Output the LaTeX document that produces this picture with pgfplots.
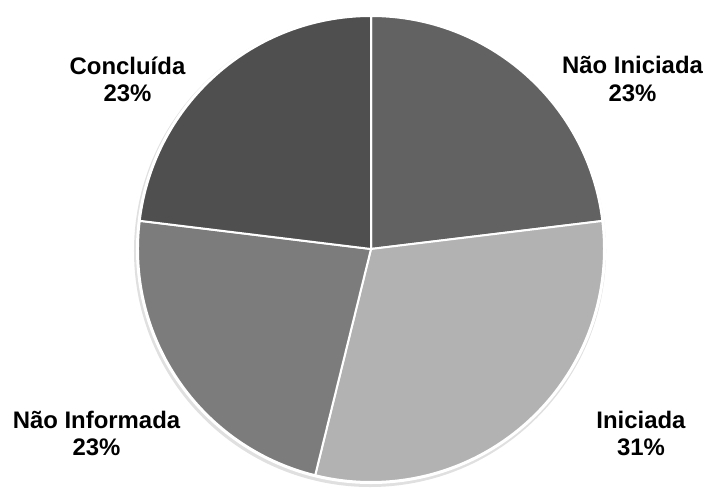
\documentclass[border=0pt]{standalone}
\usepackage{pgfplots}
\pgfplotsset{compat=1.18}
\usepackage{pgfplotstable}
\usepackage{fontspec}
\setmainfont{Liberation Sans}

\definecolor{cA}{HTML}{626262}
\definecolor{cB}{HTML}{B2B2B2}
\definecolor{cC}{HTML}{7C7C7C}
\definecolor{cD}{HTML}{4F4F4F}

% Status (clockwise from top): Nao Iniciada, Iniciada, Nao Informada, Concluida
\pgfplotstableread{
value
23.08
30.77
23.08
23.08
}\piedata

\newcommand\slice[3]{%
  \fill[#3, draw=white, line width=1bp, line join=round]
    (axis cs:371,235) -- (axis cs:{371+233*cos(#1)},{235+233*sin(#1)})
    arc[start angle=#1, end angle=#2, radius=116.5bp] -- cycle;}
\newcommand\pct[1]{\pgfmathprintnumber[fixed,precision=0,assume math mode=true]{#1}\%}

\begin{document}
\begin{tikzpicture}
\pgfplotstablegetelem{0}{value}\of\piedata \let\va\pgfplotsretval
\pgfplotstablegetelem{1}{value}\of\piedata \let\vb\pgfplotsretval
\pgfplotstablegetelem{2}{value}\of\piedata \let\vc\pgfplotsretval
\pgfplotstablegetelem{3}{value}\of\piedata \let\vd\pgfplotsretval
\pgfmathsetmacro\aA{90}
\pgfmathsetmacro\aB{\aA-3.6*\va}
\pgfmathsetmacro\aC{\aB-3.6*\vb}
\pgfmathsetmacro\aD{\aC-3.6*\vc}
\pgfmathsetmacro\aE{\aD-3.6*\vd}
\begin{axis}[x=0.5bp, y=0.5bp, xmin=0, xmax=707, ymin=0, ymax=484,
  hide axis, clip=false]
\path (axis cs:0,0) rectangle (axis cs:707,484);
\fill[black!12] (axis cs:370,233) circle[radius=118bp];
\fill[white] (axis cs:371,235) circle[radius=117.5bp];
\slice{\aA}{\aB}{cA}
\slice{\aB}{\aC}{cB}
\slice{\aC}{\aD}{cC}
\slice{\aD}{\aE}{cD}
\tikzset{lbl/.style={font=\bfseries\fontsize{12}{13.6}\selectfont, align=center, inner sep=0pt}}
\node[lbl] at (axis cs:632.5,405) {Não Iniciada\\\pct{\va}};
\node[lbl] at (axis cs:641,50.5) {Iniciada\\\pct{\vb}};
\node[lbl] at (axis cs:96.5,50.5) {Não Informada\\\pct{\vc}};
\node[lbl] at (axis cs:127.5,405) {Concluída\\\pct{\vd}};
\end{axis}
\end{tikzpicture}
\end{document}
